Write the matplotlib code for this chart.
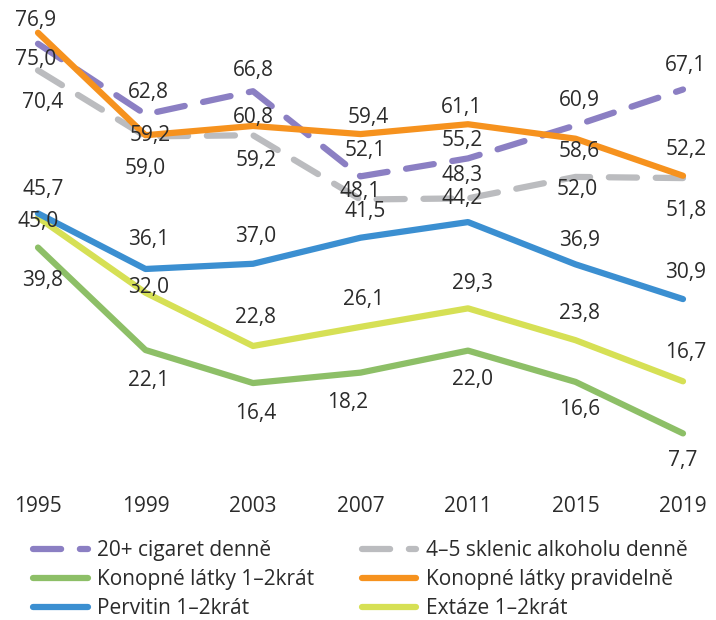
import matplotlib.pyplot as plt
import numpy as np

plt.rcParams['font.family'] = ['Open Sans', 'DejaVu Sans']

years = [1995, 1999, 2003, 2007, 2011, 2015, 2019]

cigarety = [75.0, 62.8, 66.8, 52.1, 55.2, 60.9, 67.1]
alkohol = [70.4, 59.0, 59.2, 48.1, 48.3, 52.0, 51.8]
konop_12 = [39.8, 22.1, 16.4, 18.2, 22.0, 16.6, 7.7]
konop_prav = [76.9, 59.2, 60.8, 59.4, 61.1, 58.6, 52.2]
pervitin = [45.7, 36.1, 37.0, 41.5, 44.2, 36.9, 30.9]
extaze = [45.0, 32.0, 22.8, 26.1, 29.3, 23.8, 16.7]

# label offsets in pixels (dx, dy), dy positive = up
off_cig = [(-2, -16), (3, 22), (0, 21), (5, 26), (-6, 18), (4, 25), (3, 24)]
off_alk = [(5, -32), (0, -32), (3, -25), (0, 8), (-6, 23), (2, -13), (3, -32)]
off_k12 = [(5, -33), (3, -30), (3, -30), (-13, -30), (5, -29), (4, -28), (0, -27)]
off_kpr = [(-2, 12), (5, 0), (0, 8), (8, 17), (-6, 17), (4, -13), (3, 26)]
off_per = [(5, 24), (3, 29), (3, 27), (5, 26), (-6, 24), (4, 24), (3, 27)]
off_ext = [(0, -4), (3, 5), (3, 28), (3, 27), (5, 25), (4, 27), (3, 29)]

purple = '#8b7fc3'
gray = '#bbbcbf'
green = '#8dbf67'
orange = '#f6921e'
blue = '#3b8fd1'
yellow = '#d6e055'

fig = plt.figure(figsize=(7.16, 6.2), dpi=100)
ax = fig.add_axes([0, 1 - 478 / 620, 1, 478 / 620])

lw = 4.5
series = [
    (cigarety, purple, True, '20+ cigaret denně', off_cig),
    (alkohol, gray, True, '4–5 sklenic alkoholu denně', off_alk),
    (konop_12, green, False, 'Konopné látky 1–2krát', off_k12),
    (konop_prav, orange, False, 'Konopné látky pravidelně', off_kpr),
    (pervitin, blue, False, 'Pervitin 1–2krát', off_per),
    (extaze, yellow, False, 'Extáze 1–2krát', off_ext),
]

handles = {}
# draw order: dashed grey first, then others
for vals, col, dashed, name, offs in [series[1], series[0], series[3], series[2], series[5], series[4]]:
    if dashed:
        ln, = ax.plot(years, vals, color=col, lw=lw, dashes=(4.5, 3),
                      dash_capstyle='round', solid_capstyle='round', label=name)
    else:
        ln, = ax.plot(years, vals, color=col, lw=lw, solid_capstyle='round',
                      solid_joinstyle='round', label=name)
    handles[name] = ln
    for x, v, (dx, dy) in zip(years, vals, offs):
        ax.annotate(f'{v:.1f}'.replace('.', ','), (x, v), xytext=(dx, dy),
                    textcoords='offset pixels', ha='center', va='center',
                    fontsize=15, color='#2b2b2b')

ax.set_xlim(1993.586, 2020.228)
ax.set_ylim(0, 478 / 5.79)
for s in ax.spines.values():
    s.set_visible(False)
ax.set_yticks([])
ax.set_xticks(years)
ax.set_xticklabels([str(y) for y in years], fontsize=15, color='#2b2b2b')
ax.tick_params(axis='x', length=0, pad=13)

order = ['20+ cigaret denně', 'Konopné látky 1–2krát', 'Pervitin 1–2krát',
         '4–5 sklenic alkoholu denně', 'Konopné látky pravidelně', 'Extáze 1–2krát']
leg = fig.legend([handles[n] for n in order], order, ncol=2, loc='upper left',
                 bbox_to_anchor=(0.035, 0.142), frameon=False, fontsize=15,
                 handlelength=2.6, handletextpad=0.45, columnspacing=2.3,
                 labelspacing=0.38, borderaxespad=0)
for t in leg.get_texts():
    t.set_color('#2b2b2b')

fig.savefig('out.png', dpi=100)
